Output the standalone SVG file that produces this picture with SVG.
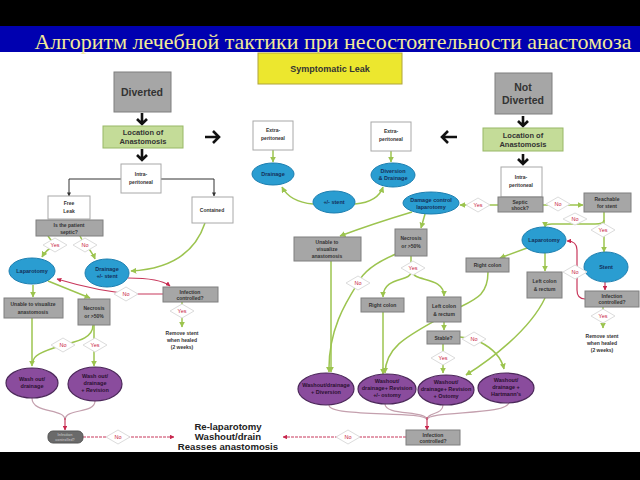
<svg xmlns="http://www.w3.org/2000/svg" width="640" height="480" viewBox="0 0 640 480">
<defs>
<marker id="ag" viewBox="0 0 10 10" refX="9" refY="5" markerWidth="4" markerHeight="4" orient="auto"><path d="M0,0 L10,5 L0,10 z" fill="#9cc44f"/></marker>
<marker id="ar" viewBox="0 0 10 10" refX="9" refY="5" markerWidth="4" markerHeight="4" orient="auto"><path d="M0,0 L10,5 L0,10 z" fill="#c8284e"/></marker>
<marker id="ak" viewBox="0 0 10 10" refX="9" refY="5" markerWidth="4" markerHeight="4" orient="auto"><path d="M0,0 L10,5 L0,10 z" fill="#333"/></marker>
</defs>
<style>
.gb{fill:#a6a6a6;stroke:#7f7f7f;stroke-width:1}
.wb{fill:#fff;stroke:#a8a8a8;stroke-width:1}
.gr{fill:#c4dc98;stroke:#98b866;stroke-width:1}
.bl{fill:#2a9dd1;stroke:#1e7fb0;stroke-width:1}
.pu{fill:#8a4c9d;stroke:#4c285a;stroke-width:1.2}
.dm{fill:#fff;stroke:#dcdcdc;stroke-width:1}
text{font-family:"Liberation Sans",Arial,sans-serif;font-weight:bold;text-anchor:middle}
.s{font-size:5px;fill:#333}
.sb{font-size:5.5px;fill:#14305a}
.sp{font-size:5.5px;fill:#2a1030}
.yn{font-size:5.5px;fill:#c8203e;font-weight:normal}
.g{fill:none;stroke:#9cc44f;stroke-width:1.5}
.ga{fill:none;stroke:#9cc44f;stroke-width:1.5;marker-end:url(#ag)}
.ra{fill:none;stroke:#c8385c;stroke-width:1.2;marker-end:url(#ar)}
.rd{fill:none;stroke:#c8385c;stroke-width:1.2;stroke-dasharray:3 1;marker-end:url(#ar)}
.pk{fill:none;stroke:#c4a0ae;stroke-width:1.2}
.k{fill:none;stroke:#111;stroke-width:2.6}
.ka{fill:none;stroke:#333;stroke-width:1;marker-end:url(#ak)}
.big{font-size:9.6px;fill:#222}
</style>
<rect x="0" y="0" width="640" height="480" fill="#fff"/>
<rect x="0" y="0" width="640" height="26" fill="#000"/>
<rect x="0" y="26" width="640" height="26" fill="#0000b0"/>
<rect x="0" y="452" width="640" height="28" fill="#000"/>
<text x="333" y="49" style="font-family:'Liberation Serif','Times New Roman',serif;font-weight:normal;font-size:21px;fill:#f2eb98" textLength="597" lengthAdjust="spacingAndGlyphs">Алгоритм лечебной тактики при несостоятельности анастомоза</text>

<g id="connectors">
<path class="k" d="M142,113 V124 M137,119 L142,124 L147,119"/>
<path class="k" d="M142,149 V160 M137,155 L142,160 L147,155"/>
<path class="k" d="M523,116 V126 M518,121 L523,126 L528,121"/>
<path class="k" d="M523,154 V164 M518,159 L523,164 L528,159"/>
<path class="k" d="M205,137 H219 M213,131 L219,137 L213,143"/>
<path class="k" d="M457,137 H442 M448,131 L442,137 L448,143"/>
<path class="ka" d="M121,179 H69 V196"/>
<path class="ka" d="M161,179 H214 V196"/>
<path class="ga" d="M48,236 Q52,242 55,245 Q46,250 42,257"/>
<path class="ga" d="M80,236 Q83,242 85,245 Q92,251 95,259"/>
<path class="ga" d="M205,223 Q190,268 131,271"/>
<path class="ra" d="M128,278 Q160,278 170,286"/>
<path class="ra" d="M163,294 H135 Q100,292 57,279"/>
<path class="ga" d="M182,302 V327"/>
<path class="ga" d="M33,285 V297"/>
<path class="ga" d="M48,281 L90,298"/>
<path class="ga" d="M32,318 V366"/>
<path class="g" d="M93,325 C93,340 72,342 63,345 C40,352 33,356 33,362"/>
<path class="ga" d="M94,325 V366"/>
<path class="pk" d="M32,398 C32,414 65,408 65,420"/>
<path class="pk" d="M95,401 C95,414 65,408 65,420"/>
<path class="ra" d="M65,418 V430"/>
<path class="rd" d="M83,437 H174"/>
<path class="ga" d="M273,150 V162"/>
<path class="ga" d="M391,151 V162"/>
<path class="ga" d="M313,204 Q290,202 282,187"/>
<path class="ga" d="M355,204 Q378,202 383,187"/>
<path class="ga" d="M498,205 H460"/>
<path class="ga" d="M425,214 L421,228"/>
<path class="ga" d="M412,212 Q372,224 340,236"/>
<path class="g" d="M411,256 V272"/>
<path class="ga" d="M411,272 C411,282 383,276 383,297"/>
<path class="ga" d="M413,272 C413,282 444,276 444,296"/>
<path class="ga" d="M396,254 C372,264 362,274 358,283 C346,302 328,330 329,372"/>
<path class="ga" d="M331,261 V372"/>
<path class="ga" d="M383,312 V374"/>
<path class="ga" d="M444,322 V330"/>
<path class="ga" d="M443,344 V373"/>
<path class="ga" d="M460,337 Q472,338 480,342 Q500,352 504,369"/>
<path class="ga" d="M488,272 C488,300 470,300 445,315 C410,335 386,345 385,373"/>
<path class="ga" d="M545,298 C530,330 490,360 466,375"/>
<path class="pk" d="M329,405 C329,418 427,410 427,420"/>
<path class="pk" d="M385,404 C385,416 427,410 427,420"/>
<path class="pk" d="M443,405 C443,415 427,412 427,420"/>
<path class="pk" d="M509,402 C509,416 427,410 427,420"/>
<path class="ra" d="M427,417 V430"/>
<path class="rd" d="M406,437 H283"/>
<path class="ga" d="M543,205 H583"/>
<path class="ga" d="M604,212 V220 Q604,224 595,224 H552 Q545,224 545,227"/>
<path class="ga" d="M604,220 V252"/>
<path class="ra" d="M605,282 V290"/>
<path class="ra" d="M585,299 Q577,299 577,290 V250 Q577,241 567,241"/>
<path class="ga" d="M603,307 V328"/>
<path class="ga" d="M527,248 L500,258"/>
<path class="ga" d="M545,253 V271"/>
</g>

<g id="title-leak"><rect x="258" y="53" width="144" height="31" fill="#ece72e" stroke="#b0a43a"/><text x="330" y="72" style="font-size:9px;fill:#333">Symptomatic Leak</text></g>

<g id="diverted"><rect class="gb" x="114" y="72" width="57" height="40"/><text x="142" y="96" style="font-size:10.5px;fill:#333">Diverted</text></g>
<g id="loc-left"><rect class="gr" x="103" y="126" width="80" height="22"/><text x="143" y="135" style="font-size:7.5px;fill:#333">Location of</text><text x="143" y="144" style="font-size:7.5px;fill:#333">Anastomosis</text></g>
<g id="intra-left"><rect class="wb" x="121" y="164" width="40" height="29"/><text class="s" x="141" y="176">Intra-</text><text class="s" x="141" y="184">peritoneal</text></g>
<g id="free-leak"><rect class="wb" x="48" y="196" width="42" height="23"/><text class="s" x="69" y="205">Free</text><text class="s" x="69" y="213">Leak</text></g>
<g id="septic-left"><rect class="gb" x="36" y="220" width="67" height="16"/><text class="s" x="69" y="227">Is the patient</text><text class="s" x="69" y="234">septic?</text></g>
<g id="d-yes1"><path class="dm" d="M43,245 L55,238 L67,245 L55,252 z"/><text class="yn" x="55" y="247">Yes</text></g>
<g id="d-no1"><path class="dm" d="M73,245 L85,238 L97,245 L85,252 z"/><text class="yn" x="85" y="247">No</text></g>
<g id="contained"><rect class="wb" x="192" y="197" width="41" height="26"/><text class="s" x="212" y="212">Contained</text></g>
<g id="lap-left"><ellipse class="bl" cx="32" cy="271" rx="23" ry="13"/><text class="sb" x="32" y="273">Laparotomy</text></g>
<g id="drain-left"><ellipse class="bl" cx="107" cy="273" rx="22" ry="14"/><text class="sb" x="107" y="271">Drainage</text><text class="sb" x="107" y="278">+/- stent</text></g>
<g id="inf-left"><rect class="gb" x="163" y="287" width="55" height="15"/><text class="s" x="190" y="293.5">Infection</text><text class="s" x="190" y="300">controlled?</text></g>
<g id="d-no2"><path class="dm" d="M114,294 L126,287 L138,294 L126,301 z"/><text class="yn" x="126" y="296">No</text></g>
<g id="d-yes2"><path class="dm" d="M170,311 L182,304 L194,311 L182,318 z"/><text class="yn" x="182" y="313">Yes</text></g>
<g id="remove-left"><text class="s" x="182" y="335">Remove stent</text><text class="s" x="182" y="342">when healed</text><text class="s" x="182" y="349">(2 weeks)</text></g>
<g id="unable-left"><rect class="gb" x="4" y="298" width="59" height="20"/><text class="s" x="33" y="306">Unable to visualize</text><text class="s" x="33" y="313.5">anastomosis</text></g>
<g id="necrosis-left"><rect class="gb" x="78" y="299" width="32" height="26"/><text class="s" x="94" y="310">Necrosis</text><text class="s" x="94" y="318">or &gt;50%</text></g>
<g id="d-no3"><path class="dm" d="M51,345 L63,338 L75,345 L63,352 z"/><text class="yn" x="63" y="347">No</text></g>
<g id="d-yes3"><path class="dm" d="M83,345 L95,338 L107,345 L95,352 z"/><text class="yn" x="95" y="347">Yes</text></g>
<g id="wash1"><ellipse class="pu" cx="32" cy="383" rx="26" ry="15"/><text class="sp" x="32" y="381">Wash out/</text><text class="sp" x="32" y="388">drainage</text></g>
<g id="wash2"><ellipse class="pu" cx="95" cy="384" rx="27" ry="17"/><text class="sp" x="95" y="378">Wash out/</text><text class="sp" x="95" y="385">drainage</text><text class="sp" x="95" y="392">+ Revision</text></g>
<g id="inf-small"><rect x="48" y="431" width="35" height="12" rx="5" fill="#6a6a6a" stroke="#555"/><text x="65" y="436" style="font-size:3.6px;fill:#b8b8b8">Infection</text><text x="65" y="440.5" style="font-size:3.6px;fill:#b8b8b8">controlled?</text></g>
<g id="d-no4"><path class="dm" d="M106,437 L118,430 L130,437 L118,444 z"/><text class="yn" x="118" y="439">No</text></g>
<g id="relap"><text class="big" x="228" y="430">Re-laparotomy</text><text class="big" x="228" y="440">Washout/drain</text><text class="big" x="228" y="450">Reasses anastomosis</text></g>

<g id="extra-left"><rect class="wb" x="253" y="121" width="40" height="29"/><text class="s" x="273" y="132">Extra-</text><text class="s" x="273" y="140">peritoneal</text></g>
<g id="drain-mid"><ellipse class="bl" cx="273" cy="174" rx="21" ry="11"/><text class="sb" x="273" y="176">Drainage</text></g>
<g id="extra-right"><rect class="wb" x="371" y="122" width="40" height="29"/><text class="s" x="391" y="133">Extra-</text><text class="s" x="391" y="141">peritoneal</text></g>
<g id="divdrain"><ellipse class="bl" cx="393" cy="175" rx="22" ry="12"/><text class="sb" x="393" y="173">Diversion</text><text class="sb" x="393" y="180">&amp; Drainage</text></g>
<g id="stent-mid"><ellipse class="bl" cx="334" cy="202" rx="21" ry="11"/><text class="sb" x="334" y="204">+/- stent</text></g>
<g id="damage"><ellipse class="bl" cx="431" cy="203" rx="28" ry="11"/><text class="sb" x="431" y="202">Damage control</text><text class="sb" x="431" y="209">laparotomy</text></g>
<g id="d-yes5"><path class="dm" d="M466,205 L478,198 L490,205 L478,212 z"/><text class="yn" x="478" y="207">Yes</text></g>
<g id="unable-mid"><rect class="gb" x="294" y="237" width="67" height="24"/><text class="s" x="327" y="244">Unable to</text><text class="s" x="327" y="251">visualize</text><text class="s" x="327" y="258">anastomosis</text></g>
<g id="necrosis-mid"><rect class="gb" x="395" y="229" width="32" height="27"/><text class="s" x="411" y="240">Necrosis</text><text class="s" x="411" y="248">or &gt;50%</text></g>
<g id="d-yes6"><path class="dm" d="M401,268 L413,261 L425,268 L413,275 z"/><text class="yn" x="413" y="270">Yes</text></g>
<g id="d-no6"><path class="dm" d="M346,283 L358,276 L370,283 L358,290 z"/><text class="yn" x="358" y="285">No</text></g>
<g id="rcolon-mid"><rect class="gb" x="361" y="298" width="43" height="14"/><text class="s" x="382.5" y="307">Right colon</text></g>
<g id="lcolon-mid"><rect class="gb" x="427" y="297" width="34" height="25"/><text class="s" x="444" y="308">Left colon</text><text class="s" x="444" y="316">&amp; rectum</text></g>
<g id="stable"><rect class="gb" x="427" y="331" width="33" height="13"/><text class="s" x="443.5" y="339.5">Stable?</text></g>
<g id="d-yes7"><path class="dm" d="M431,358 L443,351 L455,358 L443,365 z"/><text class="yn" x="443" y="360">Yes</text></g>
<g id="d-no7"><path class="dm" d="M462,339 L474,332 L486,339 L474,346 z"/><text class="yn" x="474" y="341">No</text></g>
<g id="wd-div"><ellipse class="pu" cx="326" cy="389" rx="28" ry="16"/><text class="sp" x="326" y="387">Washout/drainage</text><text class="sp" x="326" y="394">+ Diversion</text></g>
<g id="wd-rev"><ellipse class="pu" cx="387" cy="389" rx="29" ry="15"/><text class="sp" x="387" y="383">Washout/</text><text class="sp" x="387" y="390">drainage+ Revision</text><text class="sp" x="387" y="397">+/- ostomy</text></g>
<g id="wd-ost"><ellipse class="pu" cx="446" cy="390" rx="28" ry="15"/><text class="sp" x="446" y="384">Washout/</text><text class="sp" x="446" y="391">drainage+ Revision</text><text class="sp" x="446" y="398">+ Ostomy</text></g>
<g id="wd-hart"><ellipse class="pu" cx="506" cy="388" rx="28" ry="15"/><text class="sp" x="506" y="382">Washout/</text><text class="sp" x="506" y="389">drainage +</text><text class="sp" x="506" y="396">Hartmann's</text></g>
<g id="inf-mid"><rect class="gb" x="406" y="430" width="54" height="15"/><text class="s" x="433" y="436.5">Infection</text><text class="s" x="433" y="443">controlled?</text></g>
<g id="d-no8"><path class="dm" d="M336,437 L348,430 L360,437 L348,444 z"/><text class="yn" x="348" y="439">No</text></g>

<g id="not-diverted"><rect class="gb" x="495" y="73" width="57" height="41"/><text x="523" y="91" style="font-size:10.5px;fill:#333">Not</text><text x="523" y="104" style="font-size:10.5px;fill:#333">Diverted</text></g>
<g id="loc-right"><rect class="gr" x="483" y="128" width="80" height="23"/><text x="523" y="137.5" style="font-size:7.5px;fill:#333">Location of</text><text x="523" y="146.5" style="font-size:7.5px;fill:#333">Anastomosis</text></g>
<g id="intra-right"><rect class="wb" x="501" y="167" width="41" height="30"/><text class="s" x="521" y="179">Intra-</text><text class="s" x="521" y="187">peritoneal</text></g>
<g id="septic-shock"><rect class="gb" x="498" y="197" width="45" height="15"/><text class="s" x="520" y="203.5">Septic</text><text class="s" x="520" y="210">shock?</text></g>
<g id="d-no9"><path class="dm" d="M546,204 L558,197 L570,204 L558,211 z"/><text class="yn" x="558" y="206">No</text></g>
<g id="reachable"><rect class="gb" x="584" y="193" width="47" height="19"/><text class="s" x="607" y="201">Reachable</text><text class="s" x="607" y="208">for stent</text></g>
<g id="d-no10"><path class="dm" d="M563,219 L575,213 L587,219 L575,225 z"/><text class="yn" x="575" y="221">No</text></g>
<g id="d-yes10"><path class="dm" d="M591,230 L603,223 L615,230 L603,237 z"/><text class="yn" x="603" y="232">Yes</text></g>
<g id="lap-right"><ellipse class="bl" cx="544" cy="240" rx="22" ry="13"/><text class="sb" x="544" y="242">Laparotomy</text></g>
<g id="stent-right"><ellipse class="bl" cx="606" cy="267" rx="22" ry="15"/><text class="sb" x="606" y="269">Stent</text></g>
<g id="inf-right"><rect class="gb" x="585" y="291" width="54" height="16"/><text class="s" x="612" y="297.5">Infection</text><text class="s" x="612" y="304">controlled?</text></g>
<g id="d-no11"><path class="dm" d="M563,272 L575,265 L587,272 L575,279 z"/><text class="yn" x="575" y="274">No</text></g>
<g id="d-yes11"><path class="dm" d="M591,316 L603,309 L615,316 L603,323 z"/><text class="yn" x="603" y="318">Yes</text></g>
<g id="remove-right"><text class="s" x="602" y="338">Remove stent</text><text class="s" x="602" y="345">when healed</text><text class="s" x="602" y="352">(2 weeks)</text></g>
<g id="rcolon-right"><rect class="gb" x="466" y="258" width="43" height="14"/><text class="s" x="487.5" y="267">Right colon</text></g>
<g id="lcolon-right"><rect class="gb" x="527" y="272" width="35" height="26"/><text class="s" x="544.5" y="283">Left colon</text><text class="s" x="544.5" y="291">&amp; rectum</text></g>
</svg>
